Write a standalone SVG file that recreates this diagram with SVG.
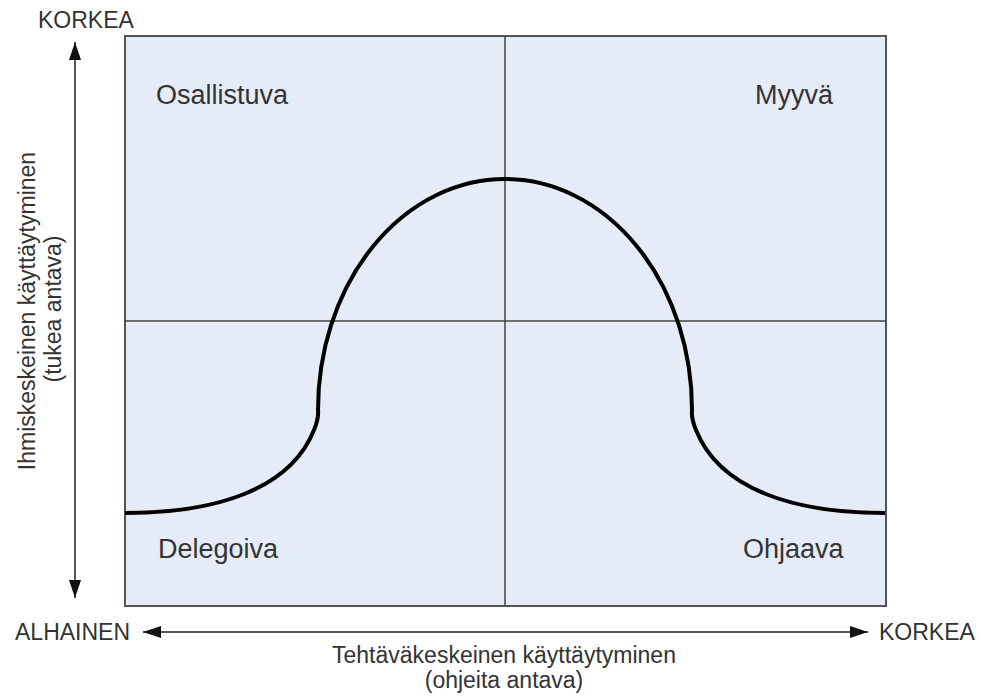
<svg xmlns="http://www.w3.org/2000/svg" width="982" height="696" viewBox="0 0 982 696">
<style>
text{font-family:"Liberation Sans",Arial,sans-serif;fill:#333}
.ax{font-size:23px}
.q{font-size:27px}
.grid{stroke:#444;stroke-width:1.5;fill:none}
.arr{stroke:#222;stroke-width:1.5;fill:none}
</style>
<defs>
<marker id="ah" markerUnits="userSpaceOnUse" markerWidth="20" markerHeight="14" refX="18" refY="6" orient="auto-start-reverse" viewBox="0 0 20 14">
<path d="M0,0 L18,6 L0,12 z" fill="#111"/>
</marker>
</defs>
<rect width="982" height="696" fill="#fff"/>
<g id="chart">
<rect x="125" y="36" width="761" height="570" fill="#E6ECF7" stroke="#555" stroke-width="2"/>
<line class="grid" x1="505" y1="36" x2="505" y2="606"/>
<line class="grid" x1="125" y1="321" x2="886" y2="321"/>
</g>
<g id="curve">
<path d="M125,513 C215,513 290,490 314,430 C319,418 318,410 318,410 A187,231 0 0 1 692,410 C692,410 691,418 696,430 C720,490 795,513 885,513" fill="none" stroke="#000" stroke-width="4"/>
</g>
<g id="connectors">
<line class="arr" x1="75" y1="42" x2="75" y2="598" marker-start="url(#ah)" marker-end="url(#ah)"/>
<line class="arr" x1="143" y1="632" x2="868" y2="632" marker-start="url(#ah)" marker-end="url(#ah)"/>
</g>
<g id="quadrants">
<text class="q" x="156" y="104">Osallistuva</text>
<text class="q" x="755" y="104">Myyvä</text>
<text class="q" x="158" y="558">Delegoiva</text>
<text class="q" x="743" y="558">Ohjaava</text>
</g>
<g id="axis-labels">
<text class="ax" x="38" y="28">KORKEA</text>
<text class="ax" x="15" y="640">ALHAINEN</text>
<text class="ax" x="879" y="640">KORKEA</text>
<text class="ax" x="504" y="663" text-anchor="middle">Tehtäväkeskeinen käyttäytyminen</text>
<text class="ax" x="504" y="688" text-anchor="middle">(ohjeita antava)</text>
<text class="ax" transform="translate(35,311) rotate(-90)" text-anchor="middle">Ihmiskeskeinen käyttäytyminen</text>
<text class="ax" transform="translate(61,309) rotate(-90)" text-anchor="middle">(tukea antava)</text>
</g>
</svg>
